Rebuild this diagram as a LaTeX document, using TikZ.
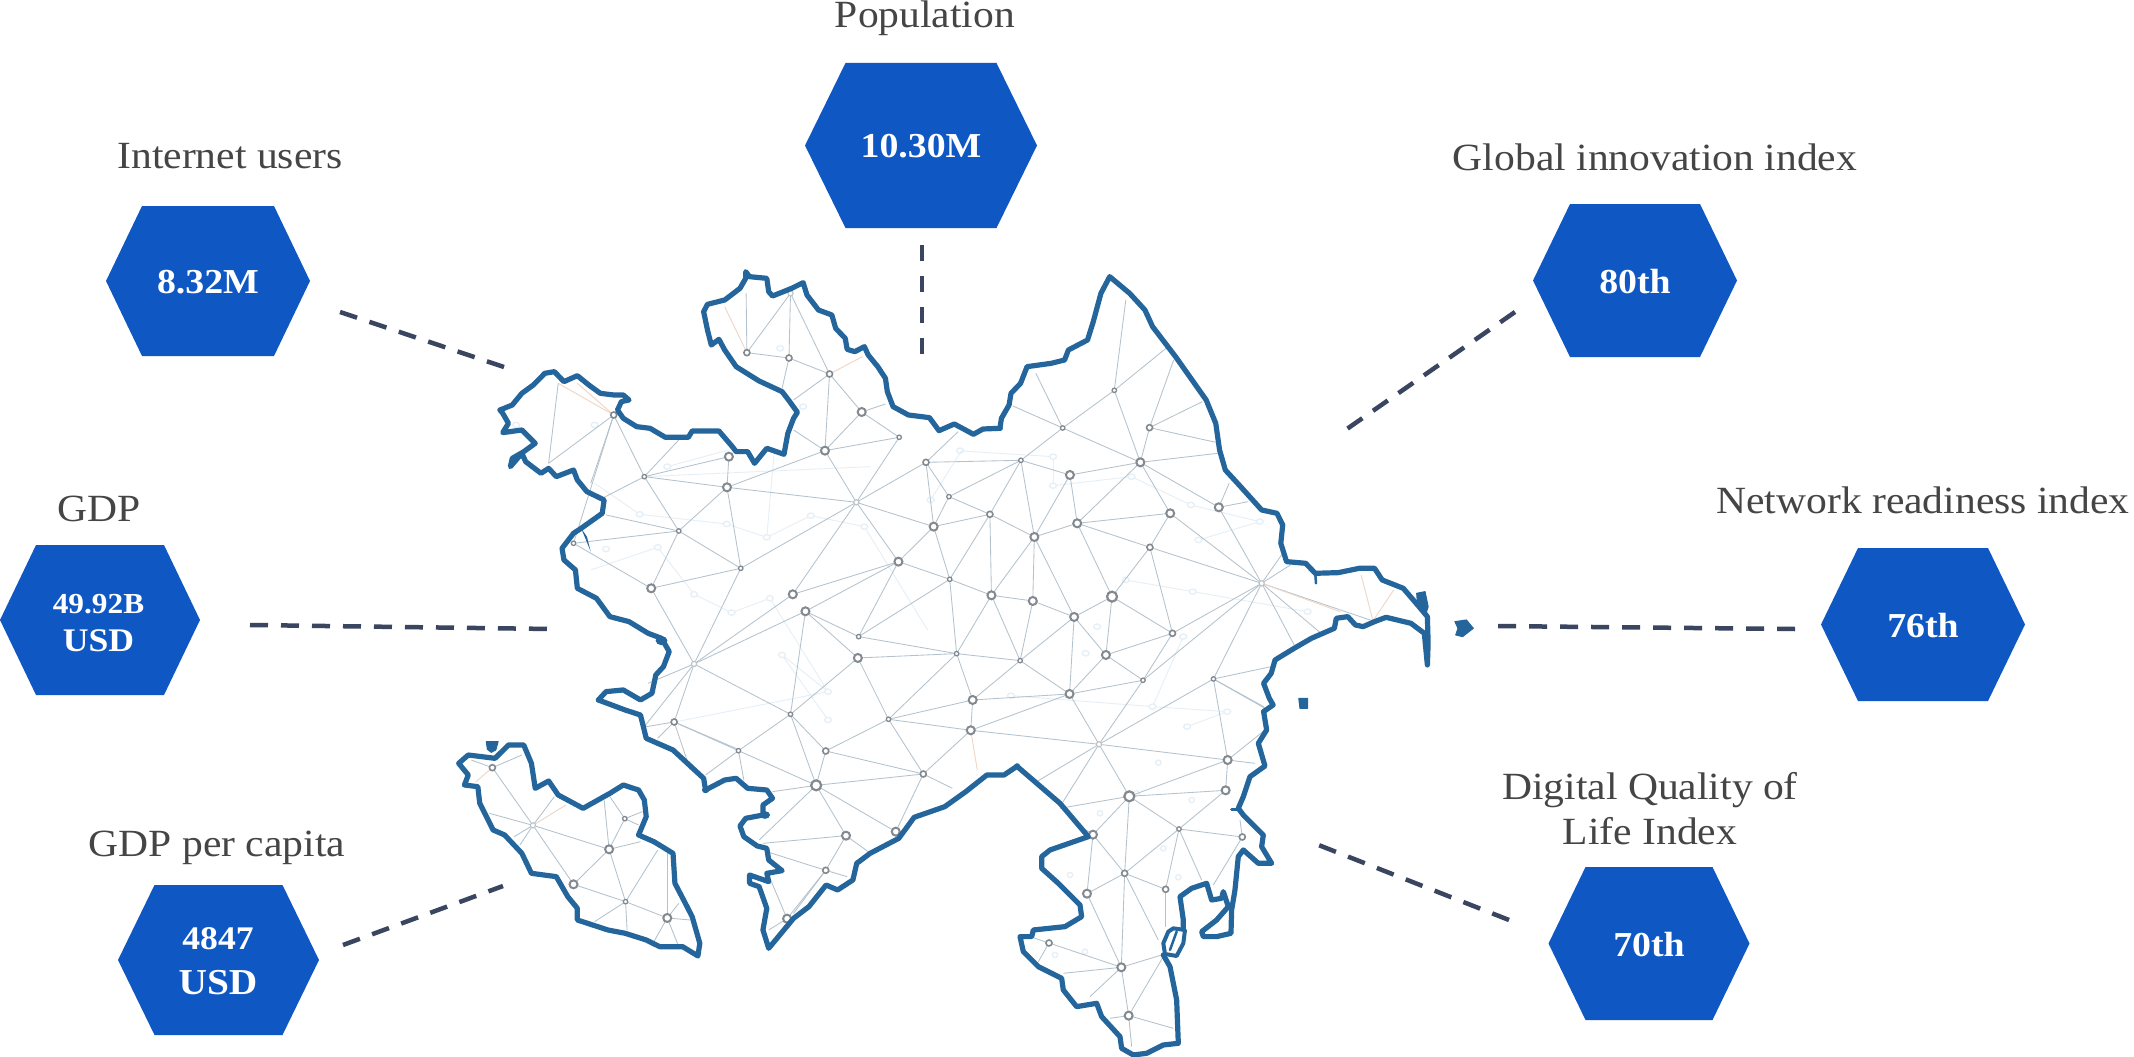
\documentclass[tikz,border=0pt]{standalone}
\usepackage{fontspec}
\setmainfont[FakeStretch=1.08]{Liberation Serif}
\definecolor{hexblue}{HTML}{0F58C4}
\definecolor{dashcol}{HTML}{3A4560}
\definecolor{mapcol}{HTML}{24669C}
\definecolor{labelcol}{HTML}{454545}
\definecolor{meshcol}{HTML}{B4C2CD}
\definecolor{faintcol}{HTML}{E6EFF6}
\definecolor{accentcol}{HTML}{F0D5C6}
\definecolor{ringcol}{HTML}{83898F}
\tikzset{
  Za/.style={x=.3827pt,y=-.3333pt,shift={(430pt,-250pt)}},
  Zb/.style={x=.3827pt,y=-.3333pt,shift={(900pt,-250pt)}},
  Zc/.style={x=.3827pt,y=-.3333pt,shift={(430pt,-700pt)}},
  Zd/.style={x=.3333pt,y=-.3333pt,shift={(950pt,-680pt)}},
  outline/.style={draw=mapcol,line width=5.2pt,line join=round,line cap=round},
  blob/.style={fill=mapcol,draw=mapcol,line width=1pt,line join=round},
  mesh/.style={draw=meshcol,line width=.85pt},
  faint/.style={draw=faintcol,line width=.9pt},
  accent/.style={draw=accentcol,line width=.9pt},
  ghost/.style={draw=faintcol,line width=1.3pt,fill=white},
  ring/.style={draw=ringcol,fill=white},
  leader/.style={draw=dashcol,line width=4.5pt,dash pattern=on 18pt off 13pt},
  label/.style={text=labelcol,font=\fontsize{38.5}{44}\selectfont,anchor=base,inner sep=0pt},
  value/.style={text=white,font=\fontsize{35}{40}\bfseries\selectfont,anchor=base,inner sep=0pt},
  small/.style={text=white,font=\fontsize{29}{34}\bfseries\selectfont,anchor=base,inner sep=0pt},
  mid/.style={text=white,font=\fontsize{33}{38}\bfseries\selectfont,anchor=base,inner sep=0pt},
  big/.style={text=white,font=\fontsize{36.5}{42}\bfseries\selectfont,anchor=base,inner sep=0pt},
}
% centre x, centre y, half width, half height, half flat
\newcommand{\hexa}[5]{\fill[hexblue] ({#1-#3},#2) -- ({#1-#5},{#2-#4}) -- ({#1+#5},{#2-#4}) -- ({#1+#3},#2) -- ({#1+#5},{#2+#4}) -- ({#1-#5},{#2+#4}) -- cycle;}
\begin{document}
\begin{tikzpicture}[x=1pt,y=-1pt]
\fill[white] (0,0) rectangle (2134,1057);
\useasboundingbox (0,0) rectangle (2134,1057);

% --- mesh coordinates
\begin{scope}[Za]
\foreach \n/\px/\py in {p1/942/130,a1/828/308,a2/938/324,a3/1044/372,a4/1128/486,a5/1226/562,a6/1032/602,a7/480/495,a8/781/620,a9/776/712,a10/560/680,a11/1114/757,a12/650/843,a13/812/955,a14/578/1015,a15/375/880,a16/690/1242,a17/948/1033,a18/981/1084,a19/1120/1160,a20/1118/1224,a21/942/1393,a22/638/1416,a23/1198/1408,a24/1296/637,a25/1356/740,a26/1316/830,a27/1463/793,a28/1224/935,a29/1358/988,a30/1467/1036,a31/1376/1211,a32/1542/1232,a33/1418/1350,a34/1413/1441,a35/1544/631}
  \coordinate (\n) at (\px,\py);
\end{scope}
\begin{scope}[Zb]
\foreach \n/\px/\py in {b1/560/421,b2/652/533,b3/425/534,b5/628/637,b6/444/675,b8/706/790,b9/833/772,b11/463/820,b12/351/861,b13/653/892,b14/945/1000,b17/347/1053,b18/554/1040,b19/455/1101,b21/712/1150,b22/538/1215,b25/443/1332,b26/635/1291,b27/819/1287,b30/520/1483,b31/1236/1113}
  \coordinate (\n) at (\px,\py);
\end{scope}
\begin{scope}[Zc]
\foreach \n/\px/\py in {c1/163/203,c2/269/376,c3/509/356,c4/468/448,c5/375/553,c6/511/605,c7/620/654,c9/806/152,c11/1034/153,c14/1009/256,c15/1289/222,c16/1087/407,c17/1217/395,c18/1034/511,c19/933/656}
  \coordinate (\n) at (\px,\py);
\end{scope}
\begin{scope}[Zd]
\foreach \n/\px/\py in {d2/833/240,d3/827/331,d4/538/349,d5/429/464,d6/687/447,d7/877/471,d8/524/580,d9/411/641,d10/647/628,d11/297/789,d12/514/862,d13/536/1007}
  \coordinate (\n) at (\px,\py);
\end{scope}

% --- faint background mesh
\begin{scope}[Za]
\foreach \xa/\ya/\xb/\yb in {620/650/780/600,548/793/775/822,775/822/880/862,880/862/995/797,995/797/1135/830,595/892/690/1033,690/1033/788/1088,788/1088/888/1045,888/1045/1040/1325,1040/1325/920/1215,920/1215/1040/1410,1135/830/1300/1140,595/892/420/960,560/680/1150/650,1040/1325/640/1416,900/600/880/862,430/700/548/793}
  \draw[faint] (\xa,\ya) -- (\xb,\yb);
\foreach \xa/\ya in {620/650,690/1033,880/862,775/822,995/797,1135/830,548/793,595/892,788/1088,888/1045,1040/1325,1040/1410,920/1215,460/897,225/525,430/525,915/295,975/470,1385/602}
  \draw[ghost] (\xa,\ya) circle [x radius=9,y radius=8];
\end{scope}
\begin{scope}[Zb]
\foreach \xa/\ya/\xb/\yb in {160/603/400/620,400/620/400/707,400/707/605/680,605/680/760/765,760/765/940/815,940/815/780/870,590/990/765/1025,765/1025/1065/1085,740/1160/660/1370,660/1370/855/1385,855/1385/750/1430,290/1337/660/1370,80/750/160/603}
  \draw[faint] (\xa,\ya) -- (\xb,\yb);
\foreach \xa/\ya in {400/620,400/707,760/765,940/815,590/990,765/1025,740/1160,1065/1085,660/1370,855/1385,750/1430,290/1337,80/750,605/680,780/870,515/1130,485/1210}
  \draw[ghost] (\xa,\ya) circle [x radius=9,y radius=8];
\end{scope}
\begin{scope}[Zd]
\foreach \xa/\ya in {625/248,725/360,450/400,360/585,640/505,685/592,405/815,315/825,560/340}
  \draw[ghost] (\xa,\ya) circle [x radius=8,y radius=8];
\end{scope}

% --- mesh edges between named points
\foreach \a/\b in {a1/a2,a2/a3,p1/a1,p1/a2,p1/a3,a3/a4,a3/a6,a4/a6,a4/a5,a6/a5,a5/a11,a11/a6,a6/a9,a9/a11,a9/a10,a10/a8,a8/a9,a10/a12,a9/a12,a9/a13,a12/a13,a12/a14,a12/a15,a13/a14,a13/a11,a13/a16,a14/a15,a14/a16,a7/a10,a11/a17,a17/a16,a18/a16,a17/a28,a18/a28,a18/a19,a18/a20,a19/a28,a19/a29,a19/a31,a20/a31,a20/a21,a20/a23,a18/a21,a16/a21,a16/a22,a11/a24,a11/a28,a11/a26,a24/a35,a24/a25,a24/a26,a25/a26,a25/a27,a25/a35,a26/a27,a26/a28,a26/a29,a27/a35,a27/a29,a28/a29,a29/a30,a29/a31,a30/a31,a30/a32,a31/a32,a31/a23,a31/a33,a33/a23,a34/a23,a33/a34,
  b1/b3,b1/b5,b3/a35,b3/b5,a35/b6,a35/b12,b5/b6,b5/b9,b5/b8,b5/b11,b2/b5,b6/b11,b6/b12,b8/b11,b8/b14,b8/b13,b9/b14,b11/b12,b11/b13,b11/b18,b12/a27,b12/a30,b12/b17,b12/b19,b13/b14,b13/b18,b13/b21,a27/a30,b14/b21,b14/b26,b14/b27,b14/b31,b18/b19,b18/b22,b18/b21,b19/b17,b19/a32,b19/b22,b19/b25,b17/a30,b17/a32,b22/b21,b22/b25,b22/b26,b25/b26,b25/a33,b25/a34,a32/a33,a32/b25,b25/b30,b26/b30,b27/b30,a34/b30,b21/b26,b27/d2,
  b30/d2,b30/d4,d2/d3,d2/d4,d3/d4,d3/d6,d4/d5,d4/d6,d4/d8,d5/d8,d5/d9,d6/d7,d6/d8,d6/d10,d8/d9,d8/d10,d8/d12,d9/d12,d11/d12,d12/d13,
  c1/c2,c2/c4,c2/c5,c4/c3,c4/c5,c4/c6,c5/c6,c6/c7,a22/c9,c9/c14,c9/a21,a21/c11,a21/c14,c11/c14,c11/a23,c11/c15,a23/c15,a34/c15,c14/c15,c14/c16,c14/c17,c15/c17,c16/c18,c18/c19,a7/a15}
  \draw[mesh] (\a) -- (\b);

% --- mesh edges to the border
\begin{scope}[Za]
\foreach \a/\px/\py in {a1/826/130,a3/950/450,a2/920/415,a4/1190/462,a6/950/540,a10/450/745,a10/650/570,a7/310/640,a7/420/700,a12/460/795,a16/570/1300,a16/560/1430,a24/1380/545,a22/805/1498}
  \draw[mesh] (\a) -- (\px,\py);
\foreach \a/\px/\py in {a3/1130/320,a7/335/400,a7/385/400,a1/770/170}
  \draw[accent] (\a) -- (\px,\py);
\draw[mesh] (335,400) -- (310,640);
\end{scope}
\begin{scope}[Zb]
\foreach \a/\px/\py in {b1/590/150,b1/695/295,b2/715/330,b2/790/455,b2/825/577,b3/295/468,b3/355/370,b5/830/610,b9/860/700,b9/910/755,b14/1000/910,b14/1100/1150,b14/1030/1185,b14/1020/945,b27/970/1250,b27/950/1370}
  \draw[mesh] (\a) -- (\px,\py);
\foreach \a/\px/\py in {b31/1205/975,b31/1290/1020,b14/1150/1085}
  \draw[accent] (\a) -- (\px,\py);
\end{scope}
\begin{scope}[Zc]
\foreach \a/\px/\py in {c1/108/180,c1/240/165,c2/325/290,c2/155/340,c2/220/410,c2/235/435,c4/455/300,c4/550/425,c3/470/290,c3/555/335,c3/545/375,c6/595/450,c6/430/665,c6/515/690,c7/620/460,c7/650/610,c7/680/660,c7/585/725,c7/650/740,a22/565/80,a22/595/115,a22/680/210,c9/720/225,c9/820/240,c14/895/275,c14/860/420,c15/1365/265,c16/870/430,c16/1145/455,c18/880/455,c18/1090/530,c18/950/640,c19/885/690,c19/890/540}
  \draw[mesh] (\a) -- (\px,\py);
\foreach \a/\px/\py in {c1/120/245,c2/355/315,a34/1430/210}
  \draw[accent] (\a) -- (\px,\py);
\end{scope}
\begin{scope}[Zd]
\foreach \a/\px/\py in {b30/260/305,b30/330/380,d2/945/150,d2/915/250,d4/330/385,d5/370/425,d6/755/600,d7/790/615,d7/870/420,d8/625/780,d10/647/740,d11/240/770,d11/265/845,d12/340/880,d12/635/825,d12/420/950,d13/640/830,d13/670/1045,d13/480/1015,d13/545/1100,b27/945/85}
  \draw[mesh] (\a) -- (\px,\py);
\end{scope}

% --- rings
\foreach \n in {a4,a6,a8,a9,a14,a17,a18,a20,a26,a28,a30,a33,a34,b5,b6,b8,b9,b11,b12,b17,b19,b22,b25,c4,c5,c7,c16,c17,c19,d2,d3,d5,d9,d12,d13}
  \draw[ring,line width=2pt] (\n) circle (4);
\foreach \n in {b18,c14,d4}
  \draw[ring,line width=2.2pt] (\n) circle (5);
\foreach \n in {a1,a2,a3,a7,a22,a24,a27,b2,b13,b21,c1,c11,c15,c18,d7,d8,d10,d11}
  \draw[ring,line width=1.6pt] (\n) circle (3);
\foreach \n in {a5,a10,a12,a13,a15,a19,a21,a23,a25,a29,a31,a32,a35,b1,b3,b26,b27,c3,c6,c9,d6}
  \draw[ring,line width=1.3pt] (\n) circle (2.2);
\foreach \n in {a11,a16,b14,b30,c2,p1}
  \draw[ring,draw=ringcol!50,line width=1.2pt] (\n) circle (2.6);

% --- map outline, traced piece by piece
\begin{scope}[Za]
\draw[outline] (183,480)--(215,465)--(240,430)--(270,405)--(300,370)--(325,365)--(350,395)--(385,377)--(415,405)--(445,430)--(480,435)--(505,435)--(520,450)--(500,455)--(490,480)--(505,505)--(540,530)--(575,535)--(615,562)--(675,562)--(685,543)--(755,543)--(790,590)--(800,605)--(830,605)--(848,640)--(880,595)--(925,613)--(935,550)--(950,505)--(960,487)--(940,455)--(920,425)--(860,393)--(800,350)--(770,300)--(755,268)--(735,285)--(725,240)--(715,185)--(725,163)--(770,150)--(810,115)--(825,85)--(825,65)--(835,80)--(880,85)--(885,125)--(895,138)--(945,115)--(975,98)--(985,135)--(1015,180)--(1050,195)--(1060,235)--(1085,265)--(1090,298)--(1110,305)--(1135,290)--(1145,315)--(1170,350)--(1190,385)--(1195,425)--(1210,470)--(1250,495)--(1305,503)--(1330,542)--(1370,522)--(1420,553)--(1445,537)--(1490,535);
\draw[outline] (440,1350)--(460,1325)--(505,1320)--(550,1350)--(580,1330)--(590,1275)--(610,1250)--(625,1205)--(605,1165)--(570,1150)--(520,1115)--(470,1100)--(435,1045)--(385,1015)--(380,960)--(350,930)--(345,895)--(375,850)--(395,835)--(450,790)--(455,750)--(410,725)--(385,690)--(375,660)--(330,680)--(310,655)--(290,670)--(250,635)--(240,610)--(210,650)--(215,625)--(245,605)--(275,580)--(240,540)--(190,548)--(205,520)--(190,490)--(183,480);
\fill[mapcol] (395,835)--(420,905)--(410,860)--cycle;
\fill[blob] (605,1172) circle [x radius=14,y radius=12];
\end{scope}
\begin{scope}[Zb]
\draw[outline] (261,535)--(265,505)--(285,465)--(290,430)--(315,400)--(332,350)--(395,340)--(430,330)--(440,300)--(490,270)--(505,215)--(525,130)--(548,80)--(600,130)--(640,180)--(660,230)--(720,320)--(800,450)--(825,520)--(835,600)--(850,660)--(890,710)--(945,780)--(985,790)--(1000,825)--(995,880)--(1010,935)--(1060,940)--(1085,970)--(1145,968)--(1200,955)--(1240,955)--(1260,990)--(1315,1015)--(1345,1055)--(1378,1100)--(1380,1180)--(1378,1245)--(1370,1150)--(1335,1120)--(1270,1102)--(1240,1115)--(1210,1130)--(1190,1125)--(1170,1100)--(1140,1105)--(1135,1135)--(1075,1165)--(1030,1195)--(980,1230)--(970,1270)--(950,1300)--(965,1345)--(975,1365)--(950,1385);
\draw[outline,line width=2.5pt] (1085,970)--(1087,1000);
\fill[blob] (1350,1030)--(1372,1025)--(1380,1070)--(1372,1100)--(1352,1060)--cycle;
\fill[blob] (1450,1115)--(1480,1110)--(1498,1135)--(1470,1160)--(1452,1155)--(1458,1135)--cycle;
\fill[blob] (1042,1345)--(1065,1345)--(1065,1375)--(1045,1375)--cycle;
\end{scope}
\begin{scope}[Zd]
\draw[outline] (941,95)--(950,150)--(925,190)--(945,258)--(900,290)--(880,350)--(865,385)--(880,405)--(940,465)--(935,500)--(965,550)--(925,550)--(880,510)--(865,530)--(855,630)--(845,690)--(843,760)--(800,770)--(760,770)--(755,755)--(800,720)--(835,680)--(820,635)--(815,655)--(785,660)--(770,610)--(725,625)--(690,650)--(700,720)--(700,745);
\draw[outline,line width=4pt] (670,745)--(705,750)--(700,790)--(680,828)--(645,822)--(640,790)--(655,755)--cycle;
\draw[outline,line width=2.5pt] (680,755)--(660,810);
\draw[outline] (640,825)--(660,860)--(680,960)--(685,1090)--(640,1095)--(590,1120)--(550,1125)--(515,1105)--(510,1070)--(455,1010)--(440,970)--(380,980)--(340,930)--(335,895)--(265,860)--(220,815)--(210,770)--(245,770)--(250,750)--(345,740)--(395,710)--(390,675)--(325,610)--(275,565)--(275,530)--(300,510)--(415,470)--(330,370)--(200,258);
\draw[outline,line width=3pt] (845,390)--(870,390);
\end{scope}
\begin{scope}[Zc]
\draw[outline] (1535,198)--(1500,225)--(1455,225)--(1400,275)--(1345,320)--(1265,352)--(1225,415)--(1150,460)--(1115,490)--(1105,540)--(1065,570)--(1035,555)--(990,620)--(950,655)--(885,745)--(870,690)--(880,625)--(860,560)--(835,550)--(835,525)--(885,545)--(880,520)--(920,512)--(885,480)--(880,445)--(855,438)--(820,410)--(810,378)--(825,355)--(870,345)--(870,315)--(895,295)--(880,270)--(830,265)--(800,235)--(770,240)--(720,270)--(715,235)--(635,150)--(565,115)--(550,45)--(510,30)--(440,0);
\draw[outline] (75,190)--(100,165)--(170,175)--(205,135)--(245,135)--(265,190)--(275,265)--(310,243)--(335,285)--(400,325)--(470,280)--(505,255)--(545,270)--(560,300)--(565,350)--(545,405)--(585,425)--(635,460)--(640,550)--(665,605)--(685,650)--(705,730)--(700,768)--(660,740)--(600,740)--(565,720)--(510,700)--(465,690)--(385,660)--(385,625)--(360,590)--(330,530)--(265,520)--(240,460)--(195,405)--(165,390)--(130,310)--(125,260)--(90,255)--(100,225)--cycle;
\fill[blob] (147,125)--(178,125)--(172,150)--(160,157)--(150,148)--cycle;
\fill[blob] (875,345) circle [x radius=12,y radius=10];
\fill[blob] (720,270) circle [x radius=8,y radius=8];
\end{scope}

% --- hexagons
\hexa{921}{145.5}{116}{82.5}{75.5}
\hexa{208}{281}{102}{75}{66}
\hexa{1635}{280.5}{102}{76.5}{65}
\hexa{100}{620}{100}{75}{64}
\hexa{1923}{624.5}{102}{76.5}{65}
\hexa{218.5}{960}{100.5}{75}{64}
\hexa{1649}{943.5}{100.5}{76.5}{63.5}

% --- labels
\node[label] (tpop) at (925,28) {Population};
\node[label] (tnet) at (230,168) {Internet users};
\node[label] (tglo) at (1655,170) {Global innovation index};
\node[label] (tnri) at (1923,513) {Network readiness index};
\node[label] (tgdp) at (99,521) {GDP};
\node[label] (tcap) at (217,856) {GDP per capita};
\node[label] (tdq1) at (1650,799) {Digital Quality of};
\node[label] (tdq2) at (1650,844) {Life Index};

% --- values
\node[value] (vpop) at (921,157) {10.30M};
\node[value] (vnet) at (208,293) {8.32M};
\node[value] (vglo) at (1635,293) {80th};
\node[value] (vnri) at (1923,637) {76th};
\node[value] (vdq) at (1649,956) {70th};
\node[small] (vgdp1) at (98.5,613) {49.92B};
\node[mid] (vgdp2) at (98.5,651) {USD};
\node[mid] (vcap1) at (218,949) {4847};
\node[big] (vcap2) at (218,994) {USD};

% --- leaders
\coordinate (l1a) at (922,245); \coordinate (l1b) at (922,355);
\coordinate (l2a) at (340,312); \coordinate (l2b) at (507,368);
\coordinate (l3a) at (1515,312); \coordinate (l3b) at (1344,431);
\coordinate (l4a) at (250,625); \coordinate (l4b) at (552,629);
\coordinate (l5a) at (1795,629); \coordinate (l5b) at (1492,626);
\coordinate (l6a) at (343,945); \coordinate (l6b) at (503,886);
\coordinate (l7a) at (1509,920); \coordinate (l7b) at (1316,844);
\draw[leader,dash pattern=on 16pt off 15pt] (l1a) -- (l1b);
\draw[leader] (l2a) -- (l2b);
\draw[leader] (l3a) -- (l3b);
\draw[leader] (l4a) -- (l4b);
\draw[leader] (l5a) -- (l5b);
\draw[leader] (l6a) -- (l6b);
\draw[leader] (l7a) -- (l7b);
\end{tikzpicture}
\end{document}
